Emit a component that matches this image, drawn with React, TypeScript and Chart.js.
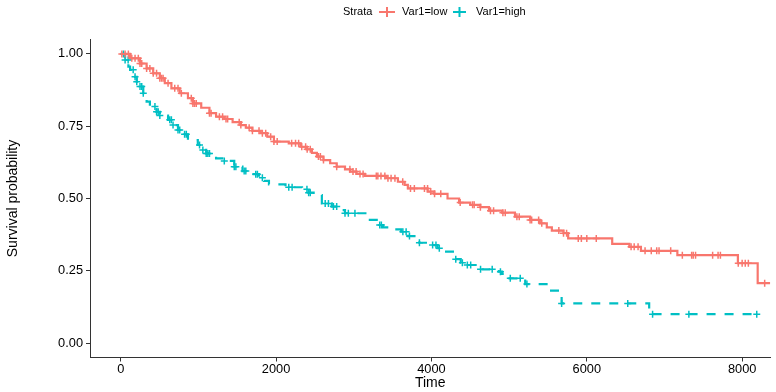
import { useEffect, useRef } from "react";
import { Chart, registerables } from "chart.js";

Chart.register(...registerables);

// ---- data ----
const strataLabels = ["Var1=low", "Var1=high"];

const lowTimes = [0, 120, 248, 333, 418, 503, 567, 652, 759, 865, 929, 1036, 1142, 1227, 1333, 1440, 1546, 1610, 1695, 1802, 1886, 1972, 2163, 2313, 2397, 2461, 2525, 2610, 2696, 2780, 2887, 2951, 3036, 3143, 3419, 3568, 3654, 3696, 3951, 4037, 4207, 4356, 4500, 4630, 4740, 4910, 5075, 5270, 5395, 5485, 5550, 5700, 5760, 6327, 6548, 6697, 7166, 7945, 8200, 8360];
const lowSurv = [1.0, 0.985, 0.967, 0.95, 0.933, 0.916, 0.899, 0.881, 0.864, 0.847, 0.829, 0.814, 0.795, 0.783, 0.775, 0.764, 0.754, 0.745, 0.734, 0.726, 0.714, 0.697, 0.691, 0.679, 0.67, 0.658, 0.645, 0.633, 0.622, 0.61, 0.601, 0.593, 0.585, 0.578, 0.57, 0.558, 0.547, 0.535, 0.524, 0.516, 0.5, 0.486, 0.478, 0.47, 0.458, 0.451, 0.437, 0.426, 0.414, 0.4, 0.389, 0.38, 0.362, 0.343, 0.333, 0.319, 0.304, 0.276, 0.207, 0.207];
const lowCensor = [14, 56, 98, 142, 184, 226, 248, 270, 333, 375, 418, 461, 503, 525, 545, 609, 695, 737, 780, 908, 929, 950, 972, 1142, 1163, 1270, 1311, 1355, 1376, 1525, 1546, 1653, 1695, 1780, 1823, 1866, 1930, 1972, 2014, 2200, 2250, 2290, 2330, 2380, 2400, 2440, 2545, 2570, 2610, 2780, 2950, 2990, 3030, 3080, 3120, 3290, 3310, 3350, 3400, 3440, 3480, 3530, 3630, 3730, 3780, 3910, 3950, 3990, 4040, 4120, 4370, 4530, 4550, 4630, 4760, 4800, 4920, 4950, 5100, 5130, 5270, 5290, 5380, 5420, 5640, 5700, 5740, 5890, 5930, 6000, 6122, 6570, 6610, 6660, 6750, 6830, 6900, 6930, 7080, 7230, 7350, 7370, 7400, 7620, 7690, 7720, 7950, 8000, 8040, 8080, 8290];

const highTimes = [0, 56, 98, 120, 162, 206, 248, 290, 333, 375, 461, 503, 609, 673, 737, 801, 865, 992, 1036, 1100, 1227, 1333, 1461, 1567, 1695, 1780, 1844, 1908, 2121, 2334, 2419, 2483, 2589, 2717, 2823, 2887, 3164, 3207, 3313, 3377, 3483, 3611, 3696, 3781, 3845, 3994, 4079, 4165, 4292, 4377, 4462, 4612, 4867, 4909, 4973, 5165, 5207, 5506, 5676, 6803, 8210];
const highSurv = [1.0, 0.979, 0.956, 0.945, 0.921, 0.904, 0.887, 0.864, 0.835, 0.818, 0.8, 0.787, 0.772, 0.754, 0.737, 0.722, 0.702, 0.685, 0.668, 0.656, 0.639, 0.63, 0.61, 0.595, 0.584, 0.572, 0.561, 0.549, 0.539, 0.532, 0.52, 0.512, 0.483, 0.472, 0.46, 0.449, 0.437, 0.426, 0.408, 0.4, 0.393, 0.385, 0.37, 0.356, 0.347, 0.339, 0.328, 0.316, 0.29, 0.278, 0.27, 0.255, 0.247, 0.239, 0.224, 0.216, 0.204, 0.181, 0.137, 0.1, 0.1];
const highCensor = [35, 56, 95, 160, 184, 206, 248, 270, 290, 440, 461, 482, 503, 631, 652, 673, 737, 759, 822, 844, 1014, 1057, 1100, 1121, 1142, 1333, 1461, 1482, 1589, 1610, 1738, 1759, 1823, 2163, 2206, 2397, 2419, 2440, 2632, 2674, 2738, 2780, 2887, 2930, 3015, 3334, 3355, 3632, 3674, 3717, 3845, 4015, 4058, 4101, 4313, 4398, 4462, 4505, 4632, 4782, 4888, 5015, 5143, 5229, 5676, 6527, 6847, 7314, 8188];

const xTicks = [0, 2000, 4000, 6000, 8000];
const xTickLabels = ["0", "2000", "4000", "6000", "8000"];
const yTicks = [0, 0.25, 0.5, 0.75, 1.0];
const yTickLabels = ["0.00", "0.25", "0.50", "0.75", "1.00"];

const RED = "#F8766D";
const TEAL = "#00BFC4";
const FONT = '"Liberation Sans", Arial, sans-serif';

function stepAt(times: number[], surv: number[], t: number) {
  let v = surv[0];
  for (let i = 0; i < times.length; i++) if (times[i] <= t) v = surv[i];
  return v;
}

const legendPlugin = {
  id: "strataLegend",
  afterDraw(chart: any) {
    const ctx = chart.ctx;
    ctx.save();
    ctx.font = `11px ${FONT}`;
    ctx.fillStyle = "#000";
    ctx.textBaseline = "middle";
    ctx.textAlign = "left";
    const y = 12;
    ctx.fillText("Strata", 343, y);
    // red key
    ctx.strokeStyle = RED;
    ctx.lineWidth = 2;
    ctx.beginPath();
    ctx.moveTo(379, y);
    ctx.lineTo(395, y);
    ctx.moveTo(387, y - 5);
    ctx.lineTo(387, y + 5);
    ctx.stroke();
    ctx.fillText(strataLabels[0], 402, y);
    // teal key
    ctx.strokeStyle = TEAL;
    ctx.beginPath();
    ctx.moveTo(453, y);
    ctx.lineTo(466, y);
    ctx.moveTo(459.5, y - 5);
    ctx.lineTo(459.5, y + 5);
    ctx.stroke();
    ctx.fillText(strataLabels[1], 476, y);
    ctx.restore();
  },
};

export default function App() {
  const ref = useRef<HTMLCanvasElement | null>(null);

  useEffect(() => {
    if (!ref.current) return;
    const lowLine = lowTimes.map((t, i) => ({ x: t, y: lowSurv[i] }));
    const highLine = highTimes.map((t, i) => ({ x: t, y: highSurv[i] }));
    const lowC = lowCensor.map((t) => ({ x: t, y: stepAt(lowTimes, lowSurv, t) }));
    const highC = highCensor.map((t) => ({ x: t, y: stepAt(highTimes, highSurv, t) }));

    const chart = new Chart(ref.current, {
      type: "scatter",
      data: {
        datasets: [
          { label: "lowC", data: lowC, showLine: false, pointStyle: "cross", pointRadius: 3.5, borderColor: RED, borderWidth: 1.5, backgroundColor: RED },
          { label: "highC", data: highC, showLine: false, pointStyle: "cross", pointRadius: 3.5, borderColor: TEAL, borderWidth: 1.5, backgroundColor: TEAL },
          { label: strataLabels[0], data: lowLine, showLine: true, stepped: "before", pointRadius: 0, borderColor: RED, borderWidth: 2.2 },
          { label: strataLabels[1], data: highLine, showLine: true, stepped: "before", pointRadius: 0, borderColor: TEAL, borderWidth: 2.2, borderDash: [9, 9] },
        ],
      } as any,
      options: {
        animation: false,
        responsive: false,
        devicePixelRatio: 1,
        events: [],
        layout: { padding: { top: 39.5, left: 0, right: 0, bottom: 0 } },
        plugins: { legend: { display: false }, tooltip: { enabled: false } },
        scales: {
          x: {
            type: "linear",
            min: -396,
            max: 8365,
            afterBuildTicks: (s: any) => { s.ticks = xTicks.map((v) => ({ value: v })); },
            afterFit: (s: any) => { s.height = 34.5; },
            ticks: {
              callback: (v: any) => xTickLabels[xTicks.indexOf(v)] ?? "",
              color: "#000",
              font: { family: FONT, size: 12.8 },
              padding: 0,
              maxRotation: 0,
            },
            grid: { drawOnChartArea: false, drawTicks: true, tickLength: 4, color: "#333", tickColor: "#333" },
            border: { display: true, color: "#333", width: 1 },
            title: { display: true, text: "Time", color: "#000", font: { family: FONT, size: 14 }, padding: { top: 0, bottom: 0 } },
          },
          y: {
            type: "linear",
            min: -0.05,
            max: 1.05,
            afterBuildTicks: (s: any) => { s.ticks = yTicks.map((v) => ({ value: v })); },
            afterFit: (s: any) => { s.width = 90; },
            ticks: {
              callback: (v: any) => yTickLabels[yTicks.indexOf(v)] ?? "",
              color: "#000",
              font: { family: FONT, size: 12.8 },
              padding: 3,
            },
            grid: { drawOnChartArea: false, drawTicks: true, tickLength: 4, color: "#333", tickColor: "#333" },
            border: { display: true, color: "#333", width: 1 },
            title: { display: true, text: "Survival probability", color: "#000", font: { family: FONT, size: 14 }, padding: { top: 5, bottom: 0 } },
          },
        },
      } as any,
      plugins: [legendPlugin],
    });
    return () => chart.destroy();
  }, []);

  return (
    <div style={{ position: "absolute", left: 0, top: 0, width: 776, height: 392, background: "#fff" }}>
      <canvas ref={ref} width={776} height={392} />
    </div>
  );
}
